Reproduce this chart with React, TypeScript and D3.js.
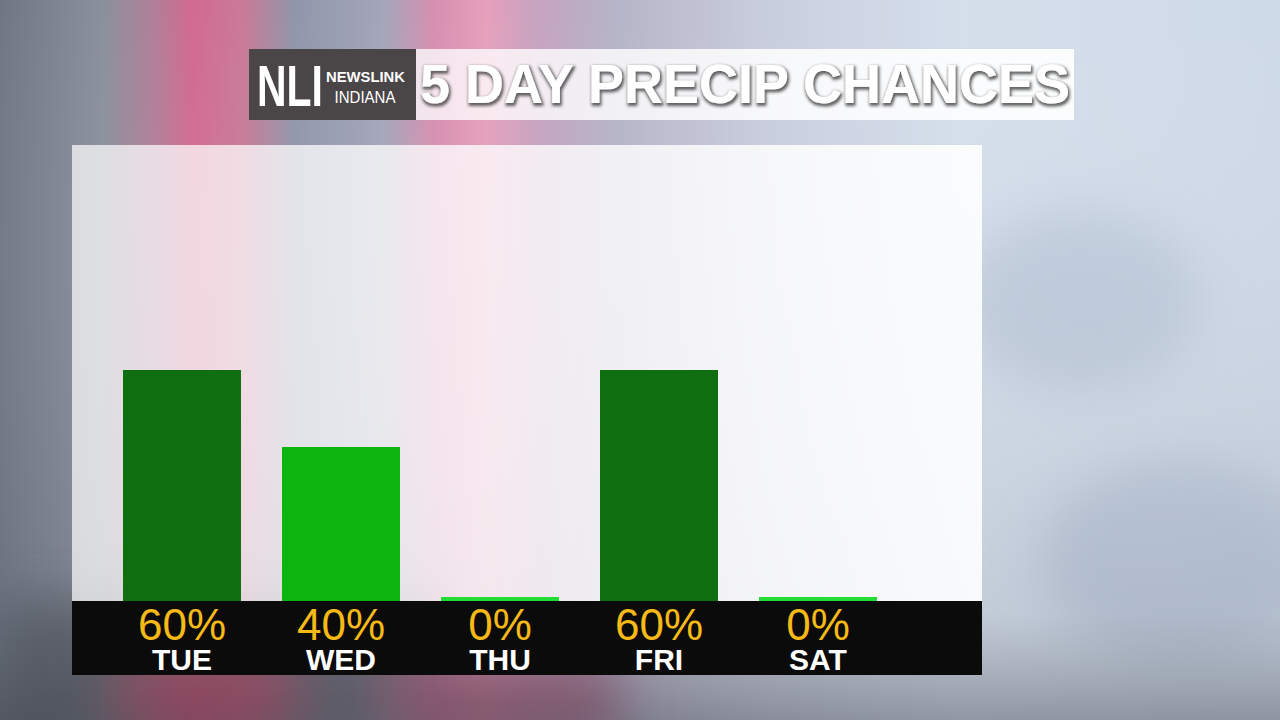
import React from 'react';
import * as d3 from 'd3';

const days = ['TUE', 'WED', 'THU', 'FRI', 'SAT'];
const chances = [60, 40, 0, 60, 0];
const barColors = ['#0f6e10', '#0db30f', '#22dd33', '#0f6e10', '#22dd33'];

const W = 1280;
const H = 720;

// panel + plot geometry
const panel = { x: 72, y: 145, w: 910, h: 530 };
const bandTop = 601;

const x = d3
  .scaleBand<string>()
  .domain(days)
  .range([123, 877])
  .paddingInner(0.258)
  .paddingOuter(0);

const y = d3.scaleLinear().domain([0, 100]).range([bandTop, 216]);

// backdrop colour stops (blurred photo look)
const bgStops: [number, string][] = [
  [0, '#6f7784'],
  [0.08, '#8a909c'],
  [0.12, '#b07f98'],
  [0.15, '#d26a8f'],
  [0.19, '#c97a98'],
  [0.23, '#9096ab'],
  [0.3, '#a4a6ba'],
  [0.34, '#d88fb0'],
  [0.38, '#e6a0bc'],
  [0.42, '#c6a3c0'],
  [0.48, '#b6b4c8'],
  [0.6, '#c9cede'],
  [0.75, '#d5dfec'],
  [1, '#cfdae8'],
];

const App: React.FC = () => {
  return (
    <svg
      width={W}
      height={H}
      style={{ position: 'absolute', left: 0, top: 0, fontFamily: 'Liberation Sans, Arial, sans-serif' }}
    >
      <defs>
        <linearGradient id="bg" x1="0" x2="1" y1="0" y2="0">
          {bgStops.map(([o, c], i) => (
            <stop key={i} offset={o} stopColor={c} />
          ))}
        </linearGradient>
        <linearGradient id="bgFade" x1="0" x2="0" y1="0" y2="1">
          <stop offset="0" stopColor="#ffffff" stopOpacity={0} />
          <stop offset="0.85" stopColor="#5c5f6a" stopOpacity={0.15} />
          <stop offset="1" stopColor="#3c3f48" stopOpacity={0.45} />
        </linearGradient>
        <linearGradient id="panelFill" x1="0" x2="1" y1="0" y2="0">
          <stop offset="0" stopColor="#ffffff" stopOpacity={0.7} />
          <stop offset="0.6" stopColor="#ffffff" stopOpacity={0.8} />
          <stop offset="1" stopColor="#ffffff" stopOpacity={0.9} />
        </linearGradient>
        <linearGradient id="titleFill" x1="0" x2="1" y1="0" y2="0">
          <stop offset="0" stopColor="#ffffff" stopOpacity={0.75} />
          <stop offset="0.5" stopColor="#ffffff" stopOpacity={0.85} />
          <stop offset="1" stopColor="#ffffff" stopOpacity={0.92} />
        </linearGradient>
        <filter id="blur" x="-20%" y="-20%" width="140%" height="140%">
          <feGaussianBlur stdDeviation="25" />
        </filter>
        <filter id="titleShadow" x="-5%" y="-30%" width="110%" height="160%">
          <feMorphology in="SourceAlpha" operator="dilate" radius="1.4" result="thick" />
          <feGaussianBlur in="thick" stdDeviation="1.8" result="blurred" />
          <feOffset in="blurred" dx="1" dy="2" result="off" />
          <feFlood floodColor="#222222" floodOpacity="0.7" />
          <feComposite in2="off" operator="in" result="shadow" />
          <feMerge>
            <feMergeNode in="shadow" />
            <feMergeNode in="SourceGraphic" />
          </feMerge>
        </filter>
      </defs>

      {/* backdrop */}
      <rect width={W} height={H} fill="url(#bg)" />
      <g filter="url(#blur)" opacity={0.7}>
        <rect x={0} y={600} width={440} height={140} fill="#4d525c" />
        <rect x={120} y={660} width={180} height={80} fill="#b03a5a" />
        <rect x={380} y={660} width={240} height={80} fill="#a05070" />
        <ellipse cx={1080} cy={300} rx={120} ry={90} fill="#b9c6d8" />
        <ellipse cx={1180} cy={560} rx={140} ry={100} fill="#b6c3d6" />
      </g>
      <rect width={W} height={H} fill="url(#bgFade)" />

      {/* header */}
      <rect x={249} y={49} width={167} height={71} fill="#4a4648" />
      <text x={257} y={106} fill="#ffffff" fontSize={58} fontWeight="bold" textLength={66} lengthAdjust="spacingAndGlyphs">
        NLI
      </text>
      <text x={326} y={82} fill="#ffffff" fontSize={15} fontWeight="bold" textLength={79} lengthAdjust="spacingAndGlyphs">
        NEWSLINK
      </text>
      <text x={365} y={103} fill="#ffffff" fontSize={17} textAnchor="middle" textLength={61} lengthAdjust="spacingAndGlyphs">
        INDIANA
      </text>
      <rect x={416} y={49} width={658} height={71} fill="url(#titleFill)" />
      <text
        x={420}
        y={103}
        fill="#ffffff"
        fontSize={56}
        fontWeight="bold"
        textLength={650}
        lengthAdjust="spacingAndGlyphs"
        filter="url(#titleShadow)"
      >
        5 DAY PRECIP CHANCES
      </text>

      {/* chart panel */}
      <rect x={panel.x} y={panel.y} width={panel.w} height={panel.h} fill="url(#panelFill)" />
      <rect x={panel.x} y={bandTop} width={panel.w} height={panel.y + panel.h - bandTop} fill="#0b0b0b" />

      {days.map((d, i) => {
        const v = chances[i];
        const top = v > 0 ? y(v) : bandTop - 4;
        return (
          <rect
            key={d}
            x={x(d)}
            y={top}
            width={x.bandwidth()}
            height={bandTop - top}
            fill={barColors[i]}
          />
        );
      })}

      {days.map((d, i) => {
        const cx = (x(d) ?? 0) + x.bandwidth() / 2;
        return (
          <g key={d}>
            <text x={cx} y={640} fill="#f6b915" fontSize={44} textAnchor="middle">
              {chances[i]}%
            </text>
            <text x={cx} y={670} fill="#ffffff" fontSize={30} fontWeight="bold" textAnchor="middle">
              {d}
            </text>
          </g>
        );
      })}
    </svg>
  );
};

export default App;
